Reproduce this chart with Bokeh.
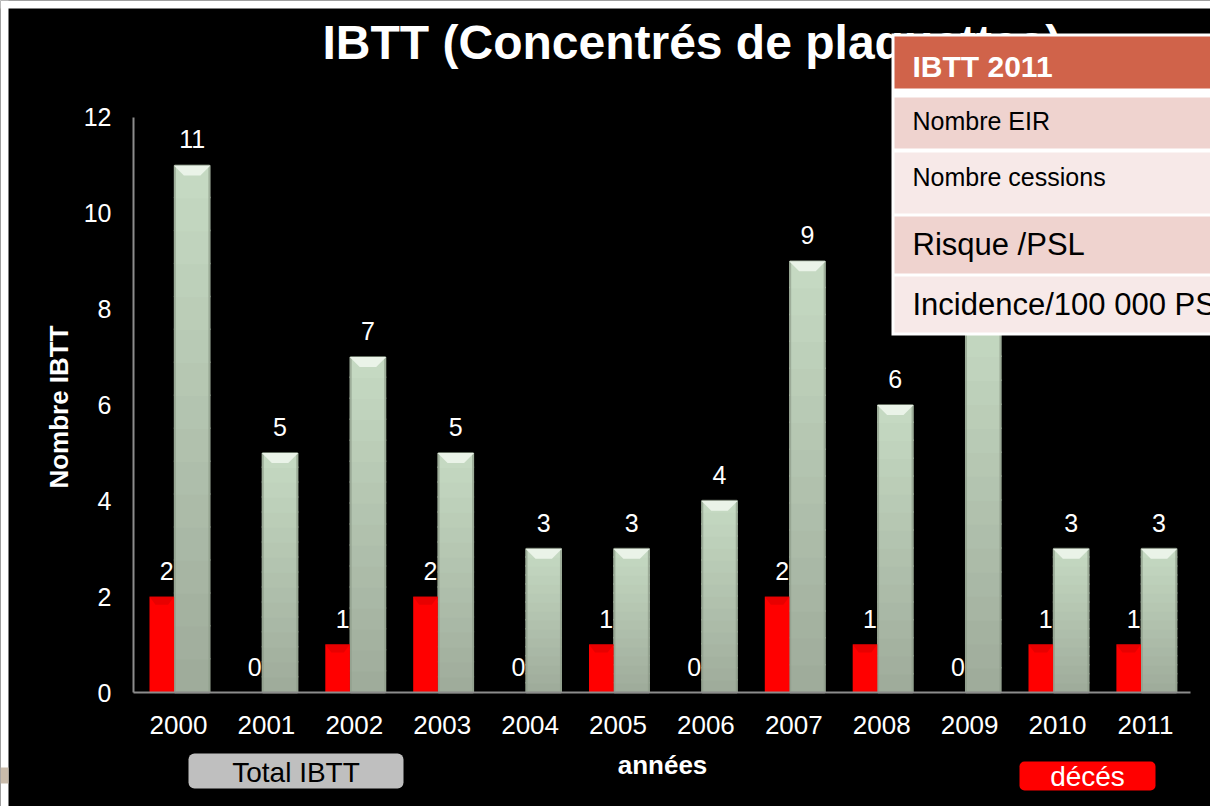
import numpy as np
from bokeh.plotting import figure
from bokeh.models import Range1d, Label, BoxAnnotation
from bokeh.core.properties import value
from bokeh.embed import file_html
from bokeh.resources import INLINE

# ---------------- data ----------------
years = ["2000", "2001", "2002", "2003", "2004", "2005",
         "2006", "2007", "2008", "2009", "2010", "2011"]
total_ibtt = [11, 5, 7, 5, 3, 3, 4, 9, 6, 8, 3, 3]
deces = [2, 0, 1, 2, 0, 1, 0, 2, 1, 0, 1, 1]
y_ticks = [0, 2, 4, 6, 8, 10, 12]

title_text = "IBTT (Concentrés de plaquettes)"
table_header = "IBTT 2011"
table_rows = ["Nombre EIR", "Nombre cessions", "Risque /PSL", "Incidence/100 000 PSL"]
legend_total = "Total IBTT"
legend_deces = "décés"
x_title = "années"
y_title = "Nombre IBTT"

FONT = "Liberation Sans"

# ---------------- layout helpers (pixel -> data) ----------------
PX_X0, PX_DX = 178.0, 87.9     # centre of first category, px per category
PX_Y0, PX_DY = 692.0, 47.92    # y=0 pixel, px per unit
W, H = 1210, 806


def dx(px):
    return (px - PX_X0) / PX_DX


def dy(py):
    return (PX_Y0 - py) / PX_DY


p = figure(width=W, height=H,
           x_range=Range1d(dx(0), dx(W)), y_range=Range1d(dy(H), dy(0)),
           x_axis_location=None, y_axis_location=None,
           output_backend="svg", toolbar_location=None, min_border=0)
p.min_border_left = p.min_border_right = p.min_border_top = p.min_border_bottom = 0
p.background_fill_color = "black"
p.border_fill_color = "black"
p.outline_line_color = None
p.grid.visible = False

red_off, red_w = -0.19, 0.28
green_off, green_w = 0.155, 0.415
xs = np.arange(len(years), dtype=float)

# ---------- green bars with vertical gradient ----------
top_col = np.array([0xC6, 0xDA, 0xC3], dtype=float)
bot_col = np.array([0x9E, 0xAB, 0x9A], dtype=float)
N = 16
ov = 1.5 / PX_DY
gx, gb, gt, gc = [], [], [], []
for i, v in enumerate(total_ibtt):
    if v <= 0:
        continue
    for k in range(N):
        t = (k + 0.5) / N
        c = bot_col + (top_col - bot_col) * t
        gx.append(xs[i] + green_off)
        gb.append(v * k / N)
        gt.append(min(v, v * (k + 1) / N + ov))
        gc.append("#%02x%02x%02x" % tuple(int(round(q)) for q in c))
p.vbar(x=gx, bottom=gb, top=gt, width=green_w, fill_color=gc, line_color=None)
p.vbar(x=xs + green_off, top=total_ibtt, width=green_w - 2 / PX_DX, fill_color=None,
       line_color="#8E9C8A", line_width=2, line_alpha=0.7)

# bevel on top of green bars
bh = 10 / PX_DY
bw = 10 / PX_DX
bev_x, bev_y = [], []
for i, v in enumerate(total_ibtt):
    c = xs[i] + green_off
    bev_x.append([c - green_w / 2, c + green_w / 2, c + green_w / 2 - bw, c - green_w / 2 + bw])
    bev_y.append([v, v, v - bh, v - bh])
p.patches(bev_x, bev_y, fill_color="#EAF3E8", line_color=None)

# ---------- red bars ----------
p.vbar(x=xs + red_off, top=deces, width=red_w, fill_color="#FF0000", line_color=None)
rbx, rby = [], []
for i, v in enumerate(deces):
    if v <= 0:
        continue
    c = xs[i] + red_off
    rbx.append([c - red_w / 2, c + red_w / 2, c + red_w / 2 - 6 / PX_DX, c - red_w / 2 + 6 / PX_DX])
    rby.append([v, v, v - 8 / PX_DY, v - 8 / PX_DY])
p.patches(rbx, rby, fill_color="#E80000", line_color=None)

# ---------- data labels ----------
gap = 26 / PX_DY
p.text(x=xs + green_off, y=[v + gap for v in total_ibtt], text=[str(v) for v in total_ibtt],
       text_align="center", text_baseline="middle", text_font_size="25px",
       text_color="white", text_font=value(FONT))
p.text(x=xs + red_off + 5 / PX_DX, y=[v + gap for v in deces], text=[str(v) for v in deces],
       text_align="center", text_baseline="middle", text_font_size="25px",
       text_color="white", text_font=value(FONT))

# ---------- axes (lines + tick labels through the scales) ----------
p.segment(x0=[dx(133)], y0=[0], x1=[dx(133)], y1=[y_ticks[-1]], line_color="#8C8C8C", line_width=2)
p.segment(x0=[dx(133)], y0=[0], x1=[dx(1190)], y1=[0], line_color="#8C8C8C", line_width=2)
p.text(x=[dx(111)] * len(y_ticks), y=y_ticks, text=[str(t) for t in y_ticks],
       text_align="right", text_baseline="middle", text_font_size="25px",
       text_color="white", text_font=value(FONT))
p.text(x=xs, y=[dy(724.5)] * len(years), text=years,
       text_align="center", text_baseline="middle", text_font_size="26px",
       text_color="white", text_font=value(FONT))

# ---------- page strips of the slide ----------
p.add_layout(BoxAnnotation(left=dx(0), right=dx(W), top=dy(0), bottom=dy(8),
                           fill_color="white", fill_alpha=1, line_color=None))
p.add_layout(BoxAnnotation(left=dx(0), right=dx(8), top=dy(0), bottom=dy(H),
                           fill_color="white", fill_alpha=1, line_color=None))
p.add_layout(BoxAnnotation(left=dx(0), right=dx(8), top=dy(767), bottom=dy(783),
                           fill_color="#C9BBAA", fill_alpha=1, line_color=None))

# ---------- title ----------
p.add_layout(Label(x=dx(322), y=dy(42), text=title_text, text_font=FONT,
                   text_font_size="48px", text_font_style="bold", text_color="white",
                   text_align="left", text_baseline="middle"))

# ---------- table overlay ----------
right_edge = dx(W) + 1
p.add_layout(BoxAnnotation(left=dx(891), right=right_edge, top=dy(33), bottom=dy(335),
                           fill_color="white", fill_alpha=1, line_color=None))
p.add_layout(BoxAnnotation(left=dx(894), right=right_edge, top=dy(36), bottom=dy(88),
                           fill_color="#D0634A", fill_alpha=1, line_color=None))
row_geo = [(97, 148, "#EFD3CF"), (152, 213, "#F7E9E8"), (216, 273, "#EFD3CF"), (276, 332, "#F7E9E8")]
for (t, b, c) in row_geo:
    p.add_layout(BoxAnnotation(left=dx(894), right=right_edge, top=dy(t), bottom=dy(b),
                               fill_color=c, fill_alpha=1, line_color=None))
p.add_layout(Label(x=dx(912), y=dy(66), text=table_header, text_font=FONT,
                   text_font_size="30px", text_font_style="bold", text_color="white",
                   text_baseline="middle"))
row_text_geo = [(120.5, "25px"), (176.5, "25px"), (244, "31px"), (304, "31px")]
for txt, (cy, fs) in zip(table_rows, row_text_geo):
    p.add_layout(Label(x=dx(912), y=dy(cy), text=txt, text_font=FONT,
                       text_font_size=fs, text_color="black", text_baseline="middle"))

# ---------- legend boxes ----------
p.add_layout(BoxAnnotation(left=dx(188), right=dx(403), top=dy(753), bottom=dy(788),
                           fill_color="#BFBFBF", fill_alpha=1, line_color=None, border_radius=6))
p.add_layout(Label(x=dx(295.5), y=dy(772), text=legend_total, text_font=FONT,
                   text_font_size="28px", text_color="black", text_align="center",
                   text_baseline="middle"))
p.add_layout(BoxAnnotation(left=dx(1019), right=dx(1155), top=dy(761), bottom=dy(790),
                           fill_color="#FF0000", fill_alpha=1, line_color=None, border_radius=5))
p.add_layout(Label(x=dx(1087), y=dy(776), text=legend_deces, text_font=FONT,
                   text_font_size="28px", text_color="white", text_align="center",
                   text_baseline="middle"))

# ---------- axis titles ----------
p.add_layout(Label(x=dx(662), y=dy(764), text=x_title, text_font=FONT,
                   text_font_size="26px", text_font_style="bold", text_color="white",
                   text_align="center", text_baseline="middle"))
p.add_layout(Label(x=dx(58), y=dy(406.5), text=y_title, text_font=FONT, angle=np.pi / 2,
                   text_font_size="26px", text_font_style="bold", text_color="white",
                   text_align="center", text_baseline="middle"))

open("out.html", "w").write(file_html(p, INLINE))
